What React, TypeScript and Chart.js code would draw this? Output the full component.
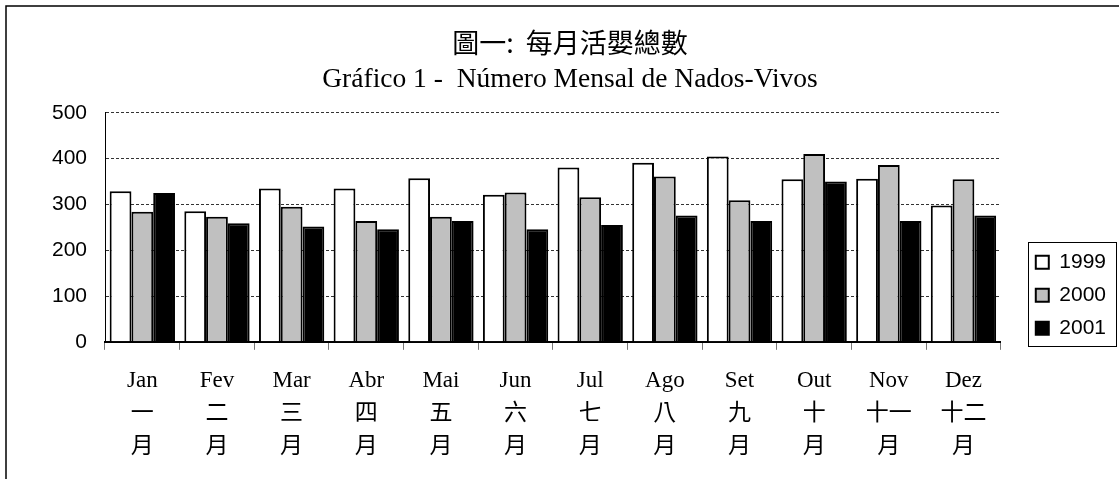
import React, { useEffect, useRef } from "react";
import { Chart, registerables } from "chart.js";

Chart.register(...registerables);

const monthsPt = ["Jan", "Fev", "Mar", "Abr", "Mai", "Jun", "Jul", "Ago", "Set", "Out", "Nov", "Dez"];
const monthsZh = ["一", "二", "三", "四", "五", "六", "七", "八", "九", "十", "十一", "十二"];
const monthSuffix = "月";

const seriesNames = ["1999", "2000", "2001"];
const values1999 = [329, 285, 335, 335, 357, 321, 381, 391, 405, 355, 356, 298];
const values2000 = [284, 273, 295, 264, 273, 326, 316, 361, 309, 410, 386, 355];
const values2001 = [325, 259, 252, 246, 264, 246, 255, 276, 264, 350, 264, 276];
const seriesColors = ["#ffffff", "#c0c0c0", "#000000"];

const yMin = 0;
const yMax = 500;
const yStep = 100;

const titleText = "圖一:  每月活嬰總數";
const subtitleText = "Gráfico 1 -  Número Mensal de Nados-Vivos";

const chromePlugin = {
  id: "chromePlugin",
  beforeDraw(chart: any) {
    const ctx = chart.ctx;
    ctx.save();
    ctx.fillStyle = "#fff";
    ctx.fillRect(0, 0, chart.width, chart.height);
    ctx.strokeStyle = "#000";
    ctx.lineWidth = 1.5;
    ctx.strokeRect(6, 6, chart.width + 20, chart.height + 20);
    ctx.restore();
  },
  afterLayout(chart: any) {
    const lg = chart.legend;
    if (!lg) return;
    const dx = chart.chartArea.right + 23 - lg.left;
    lg.left += dx;
    lg.right += dx;
    lg.top += 9;
    lg.bottom += 9;
  },
  afterDraw(chart: any) {
    const lg = chart.legend;
    if (!lg || !lg.legendHitBoxes || !lg.legendHitBoxes.length) return;
    let l = Infinity, t = Infinity, r = -Infinity, b = -Infinity;
    for (const h of lg.legendHitBoxes) {
      l = Math.min(l, h.left);
      t = Math.min(t, h.top);
      r = Math.max(r, h.left + h.width);
      b = Math.max(b, h.top + h.height);
    }
    const ctx = chart.ctx;
    ctx.save();
    ctx.strokeStyle = "#000";
    ctx.lineWidth = 1;
    const x0 = Math.round(l - 8) + 0.5;
    const y0 = Math.round(t - 9.5) + 0.5;
    const x1 = Math.round(r + 10) + 0.5;
    const y1 = Math.round(b + 7) + 0.5;
    ctx.strokeRect(x0, y0, x1 - x0, y1 - y0);
    ctx.restore();
  },
};

export default function App() {
  const ref = useRef<HTMLCanvasElement | null>(null);

  useEffect(() => {
    if (!ref.current) return;
    const labels = monthsPt.map((m, i) => [m, monthsZh[i], monthSuffix]);
    const data = [values1999, values2000, values2001];
    const chart = new Chart(ref.current, {
      type: "bar",
      data: {
        labels,
        datasets: seriesNames.map((name, i) => ({
          label: name,
          data: data[i],
          backgroundColor: seriesColors[i],
          borderColor: "#000",
          borderWidth: 2,
          barPercentage: 1,
          categoryPercentage: 0.875,
        })),
      },
      options: {
        animation: false,
        responsive: false,
        maintainAspectRatio: false,
        layout: { padding: { left: 47, right: 26, top: 8, bottom: 1.5 } },
        plugins: {
          tooltip: { enabled: false },
          title: {
            display: true,
            text: titleText,
            fullSize: true,
            color: "#000",
            font: { family: "'Noto Sans CJK TC'", size: 27, weight: "normal", lineHeight: 1.2 },
            padding: { top: 18.3, bottom: 5 },
          },
          subtitle: {
            display: true,
            text: subtitleText,
            fullSize: true,
            color: "#000",
            font: { family: "'Liberation Serif', 'Times New Roman', serif", size: 27.5, weight: "normal", lineHeight: 1.2 },
            padding: { top: 0, bottom: 16.2 },
          },
          legend: {
            display: true,
            position: "right",
            align: "end",
            fullSize: false,
            labels: {
              color: "#000",
              boxWidth: 13,
              boxHeight: 13,
              padding: 12,
              font: { family: "'Liberation Sans', Arial, sans-serif", size: 21 },
            },
          },
        },
        scales: {
          x: {
            grid: {
              display: true,
              drawOnChartArea: false,
              drawTicks: true,
              tickLength: 8,
              color: "#777",
              lineWidth: 1,
            },
            border: { display: true, color: "#000", width: 2 },
            ticks: {
              color: "#000",
              padding: 14.5,
              maxRotation: 0,
              autoSkip: false,
              font: { family: "'Liberation Serif', 'Noto Sans CJK TC', serif", size: 23, lineHeight: 1.43 },
            },
          },
          y: {
            min: yMin,
            max: yMax,
            afterFit(scale: any) {
              scale.width = 58;
            },
            grid: {
              display: true,
              drawTicks: false,
              color: "#333",
              lineWidth: 1,
              borderDash: [3, 2],
            },
            border: { display: true, color: "#000", width: 1, dash: [3, 2] },
            ticks: {
              stepSize: yStep,
              color: "#000",
              padding: 18,
              font: { family: "'Liberation Sans', Arial, sans-serif", size: 21 },
            },
          },
        },
      },
      plugins: [chromePlugin],
    } as any);
    return () => chart.destroy();
  }, []);

  return (
    <div style={{ position: "fixed", left: 0, top: 0, width: 1119, height: 479 }}>
      <canvas ref={ref} width={1119} height={479} style={{ width: 1119, height: 479 }} />
    </div>
  );
}
